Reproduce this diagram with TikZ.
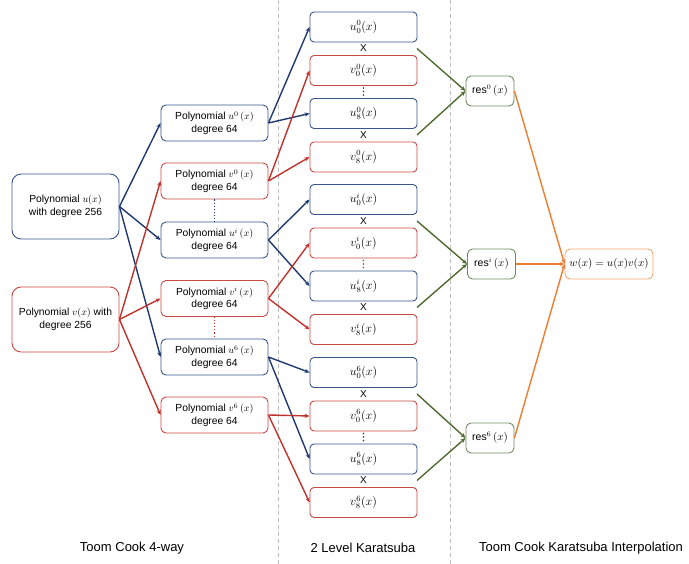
\documentclass[tikz,border=0pt]{standalone}
\usepackage{fontspec}
\setmainfont{Liberation Sans}
\usetikzlibrary{arrows.meta}
\definecolor{bluel}{HTML}{1F3A70}
\definecolor{blueb}{HTML}{3A5490}
\definecolor{redl}{HTML}{C0322C}
\definecolor{redb}{HTML}{C94A45}
\definecolor{greenl}{HTML}{4F6B2F}
\definecolor{greenb}{HTML}{6E8B5E}
\definecolor{orangel}{HTML}{ED7D31}
\definecolor{orangeb}{HTML}{F4A66F}
\definecolor{sepgray}{HTML}{BDBDBD}
\tikzset{
  basebox/.style={draw, line width=0.9pt, inner sep=0pt, align=center, font=\fontsize{10.3}{12.5}\selectfont},
  bigblue/.style={basebox, blueb, text=black, rounded corners=9pt, minimum width=107pt, minimum height=65pt},
  bigred/.style={basebox, redb, text=black, rounded corners=9pt, minimum width=107pt, minimum height=65pt},
  midblue/.style={basebox, blueb, text=black, rounded corners=5pt, minimum width=107pt, minimum height=36pt},
  midred/.style={basebox, redb, text=black, rounded corners=5pt, minimum width=107pt, minimum height=36pt},
  smblue/.style={basebox, blueb, text=black, rounded corners=4pt, minimum width=107pt, minimum height=30pt, font=\fontsize{12}{14}\selectfont},
  smred/.style={basebox, redb, text=black, rounded corners=4pt, minimum width=107pt, minimum height=30pt, font=\fontsize{12}{14}\selectfont},
  resbox/.style={basebox, greenb, text=black, rounded corners=5pt, minimum width=48pt, minimum height=30pt, font=\fontsize{10.5}{13}\selectfont},
  wbox/.style={basebox, orangeb, text=black, rounded corners=5pt, minimum width=88pt, minimum height=30pt, font=\fontsize{10.5}{13}\selectfont},
  tip/.style={-{Stealth[length=5pt,width=4.2pt]}},
  barrow/.style={tip, bluel, line width=1.4pt},
  rarrow/.style={tip, redl, line width=1.4pt},
  garrow/.style={tip, greenl, line width=1.4pt},
  oarrow/.style={tip, orangel, line width=1.4pt},
  sepline/.style={sepgray, line width=0.9pt, dash pattern=on 4pt off 3pt},
  xmark/.style={inner sep=0pt, font=\fontsize{10}{12}\selectfont},
  steplabel/.style={inner sep=0pt, font=\fontsize{13}{15}\selectfont},
}
\begin{document}
\begin{tikzpicture}[x=1pt,y=-1pt]
\useasboundingbox (0,0) rectangle (689,564);
% separators
\coordinate (s1t) at (278,0); \coordinate (s1b) at (278,564);
\coordinate (s2t) at (450,0); \coordinate (s2b) at (450,564);
\draw[sepline] (s1t) -- (s1b);
\draw[sepline] (s2t) -- (s2b);
% left
\node[bigblue] (U) at (65.5,206.5) {Polynomial $u(x)$\\with degree 256};
\node[bigred] (V) at (65.5,319.5) {Polynomial $v(x)$ with\\degree 256};
% column 2
\node[midblue] (u0) at (214.5,123) {Polynomial $u^{0}\,(x)$\\degree 64};
\node[midred] (v0) at (214.5,181) {Polynomial $v^{0}\,(x)$\\degree 64};
\node[midblue] (ui) at (214.5,240) {Polynomial $u^{i}\,(x)$\\degree 64};
\node[midred] (vi) at (214.5,298.5) {Polynomial $v^{i}\,(x)$\\degree 64};
\node[midblue] (u6) at (214.5,357) {Polynomial $u^{6}\,(x)$\\degree 64};
\node[midred] (v6) at (214.5,415) {Polynomial $v^{6}\,(x)$\\degree 64};
\draw[bluel, dotted, line width=1.1pt] (v0.south) -- (ui.north);
\draw[redl, dotted, line width=1.1pt] (vi.south) -- (u6.north);
% column 3
\foreach \g/\y/\c in {0/27/bluel, i/199.5/redl, 6/372.5/bluel}{
  \node[smblue] (a\g) at (363.5,\y) {$u_0^{\g}(x)$};
  \node[smred] (b\g) at (363.5,\y+43.5) {$v_0^{\g}(x)$};
  \node[smblue] (c\g) at (363.5,\y+86.5) {$u_8^{\g}(x)$};
  \node[smred] (d\g) at (363.5,\y+130) {$v_8^{\g}(x)$};
  \node[xmark] (xa\g) at (363.5,\y+21.5) {X};
  \node[xmark] (xb\g) at (363.5,\y+108) {X};
  \coordinate (dt\g) at (363.5,\y+64.5);
  \foreach \d in {-3.5,0,3.5}{\fill[\c] ([yshift=\d pt]dt\g) circle (0.85pt);}
  \coordinate (ga\g) at (417,\y+21.5);
  \coordinate (gb\g) at (417,\y+108);
}
% res and w
\node[resbox] (r0) at (490,91) {res$^{0}\,(x)$};
\node[resbox] (ri) at (491.5,264) {res$^{i}\,(x)$};
\node[resbox] (r6) at (490,438) {res$^{6}\,(x)$};
\node[wbox] (W) at (609,264) {$w(x) = u(x)v(x)$};
% arrows left -> col2
\draw[barrow] (U.east) -- (u0.west);
\draw[barrow] (U.east) -- (ui.west);
\draw[barrow] (U.east) -- (u6.west);
\draw[rarrow] (V.east) -- (v0.west);
\draw[rarrow] (V.east) -- (vi.west);
\draw[rarrow] (V.east) -- (v6.west);
% col2 -> col3
\foreach \g in {0,i,6}{
  \draw[barrow] (u\g.east) -- (a\g.west);
  \draw[barrow] (u\g.east) -- (c\g.west);
  \draw[rarrow] (v\g.east) -- (b\g.west);
  \draw[rarrow] (v\g.east) -- (d\g.west);
  \draw[garrow] (ga\g) -- (r\g.west);
  \draw[garrow] (gb\g) -- (r\g.west);
  \draw[oarrow] (r\g.east) -- (W.west);
}
% bottom labels
\node[steplabel] (l1) at (132,548) {Toom Cook 4-way};
\node[steplabel] (l2) at (363,548) {2 Level Karatsuba};
\node[steplabel] (l3) at (581,548) {Toom Cook Karatsuba Interpolation};
\end{tikzpicture}
\end{document}
